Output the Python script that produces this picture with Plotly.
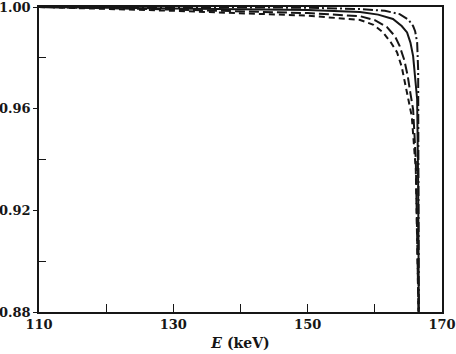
import plotly.graph_objects as go

# Data
E_dashdot = [110, 130, 150, 157.8, 161.5, 163.7, 165.0, 165.7, 166.0, 166.3, 166.45, 166.55]
y_dashdot = [1.000, 1.000, 0.9997, 0.9992, 0.9985, 0.9972, 0.995, 0.9925, 0.9905, 0.986, 0.975, 0.88]

E_solid = [110, 130, 150, 157.8, 160.5, 162.7, 164.0, 164.8, 165.3, 165.7, 166.05, 166.3, 166.45, 166.55]
y_solid = [1.000, 0.9995, 0.9988, 0.998, 0.997, 0.9953, 0.9925, 0.990, 0.986, 0.9807, 0.972, 0.9637, 0.93, 0.88]

E_longdash = [110, 130, 150, 157.8, 160.0, 161.8, 163.0, 163.7, 164.4, 164.9, 165.3, 165.7, 166.1, 166.4, 166.5]
y_longdash = [1.000, 0.999, 0.9976, 0.9964, 0.9948, 0.9921, 0.9885, 0.9846, 0.979, 0.9728, 0.966, 0.9597, 0.94, 0.904, 0.88]

E_shortdash = [110, 130, 150, 157.8, 159.8, 161.2, 162.4, 163.3, 164.0, 164.5, 165.0, 165.5, 166.1, 166.4, 166.5]
y_shortdash = [1.000, 0.9985, 0.9966, 0.9949, 0.993, 0.9901, 0.986, 0.9822, 0.9765, 0.9704, 0.963, 0.957, 0.936, 0.90, 0.88]

x_ticks = [110, 130, 150, 170]
y_ticks = [0.88, 0.92, 0.96, 1.00]
y_ticklabels = ["0.88", "0.92", "0.96", "1.00"]

ink = "#161616"
fig = go.Figure()
for E, y, dash in [(E_dashdot, y_dashdot, "10px,3px,2px,3px"),
                   (E_solid, y_solid, "solid"),
                   (E_longdash, y_longdash, "10px,4px"),
                   (E_shortdash, y_shortdash, "6px,4px")]:
    fig.add_trace(go.Scatter(x=E, y=y, mode="lines", line=dict(color=ink, width=2, dash=dash),
                             showlegend=False, hoverinfo="skip"))

fig.update_layout(
    width=456, height=354,
    margin=dict(l=39, r=14, t=7, b=42, autoexpand=False),
    paper_bgcolor="white", plot_bgcolor="white",
    font=dict(family="DejaVu Serif", size=13, color=ink, weight="bold"),
)
fig.update_xaxes(range=[110, 170], tickvals=x_ticks, ticktext=[str(v) for v in x_ticks],
                 ticklabeloverflow="allow", automargin=False,
                 showgrid=False, zeroline=False, showline=True, linecolor=ink, linewidth=1.5,
                 mirror=True, ticks="inside", ticklen=8, tickwidth=1.2, tickcolor=ink,
                 minor=dict(tickvals=[120, 140, 160], ticks="inside", ticklen=8, tickwidth=1.2, tickcolor=ink),
                 title=dict(text="<i>E</i> (keV)", standoff=7, font=dict(size=14, weight="bold")))
fig.update_yaxes(range=[0.88, 1.00], tickvals=y_ticks, ticktext=y_ticklabels,
                 ticklabeloverflow="allow", automargin=False,
                 showgrid=False, zeroline=False, showline=True, linecolor=ink, linewidth=1.5,
                 mirror=True, ticks="outside", ticklen=4, tickwidth=1.2, tickcolor=ink,
                 minor=dict(tickvals=[0.90, 0.94, 0.98], ticks="inside", ticklen=7, tickwidth=1.2, tickcolor=ink))

fig.write_html("out.html")
